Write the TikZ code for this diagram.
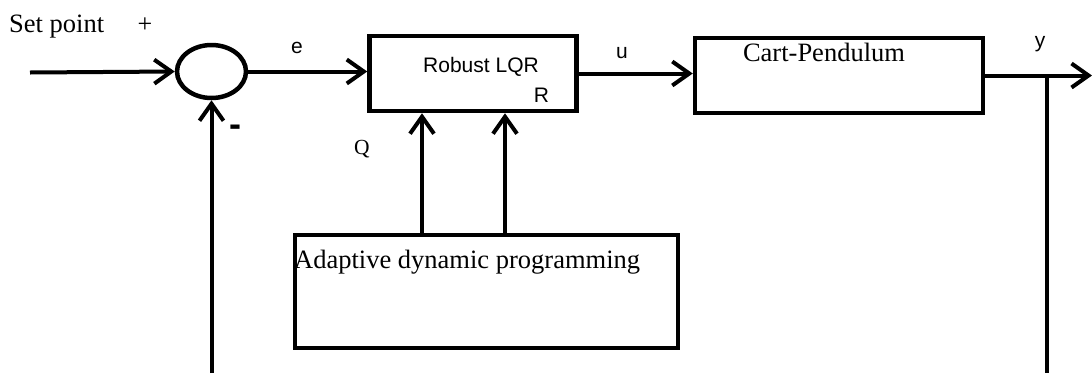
\documentclass[tikz,border=0pt]{standalone}
\usepackage{fontspec}
\setmainfont{Liberation Serif}
\newfontfamily\arialf{Liberation Sans}
\usetikzlibrary{arrows.meta,shapes.geometric}
\begin{document}
\begin{tikzpicture}[x=1pt,y=-1pt,
  blk/.style={draw, line width=4.5pt, inner sep=0pt},
  ln/.style={line width=3.5pt},
  arr/.style={line width=4pt, -{Straight Barb[length=17pt,width=24pt]}},
  serif/.style={font=\fontsize{26.5}{30}\selectfont, inner sep=0pt},
  serifsm/.style={font=\fontsize{21.5}{24}\selectfont, inner sep=0pt},
  sans/.style={font=\arialf\fontsize{21}{24}\selectfont, inner sep=0pt}]
\useasboundingbox (0,0) rectangle (1092,373);
% blocks
\node[blk, ellipse, minimum width=69pt, minimum height=53pt] (sum) at (211.5,71.5) {};
\node[blk, rectangle, minimum width=207pt, minimum height=75pt] (lqr) at (473,73.5) {};
\node[blk, rectangle, minimum width=288pt, minimum height=75pt] (plant) at (839,75.5) {};
\node[blk, rectangle, minimum width=383pt, minimum height=113pt] (adp) at (486.5,291.5) {};
% coordinates
\coordinate (in) at (30,72.5);
\coordinate (out) at (1092,75.5);
\coordinate (j) at (1047,75.5);
\coordinate (jb) at (1047,373);
\coordinate (fb) at (211.5,373);
\coordinate (qx) at (422,0);
\coordinate (rx) at (505,0);
% connectors
\draw[arr] (in) -- (sum.west);
\draw[arr] (sum.east) -- (lqr.west |- sum.east);
\draw[arr] (lqr.east) -- (plant.west |- lqr.east);
\draw[arr] (plant.east) -- (out);
\draw[ln] (j) -- (jb);
\draw[arr] (fb) -- (sum.south);
\draw[arr] (adp.north -| qx) -- (lqr.south -| qx);
\draw[arr] (adp.north -| rx) -- (lqr.south -| rx);
% labels
\node[serif, anchor=base west] (sp) at (9,32) {Set point};
\node[font=\fontsize{26}{28}\selectfont, inner sep=0pt, anchor=base] (plus) at (145,32) {+};
\node[sans, anchor=base] (el) at (297,53) {e};
\node[font=\arialf\bfseries\fontsize{36}{38}\selectfont, inner sep=0pt] (minus) at (235,131) {-};
\node[serifsm, anchor=base] (ql) at (362,154) {Q};
\node[sans, anchor=base] (lqrt) at (481,72) {Robust LQR};
\node[sans, anchor=base] (rl) at (541.5,102) {R};
\node[sans, anchor=base] (ul) at (622,58) {u};
\node[serif, anchor=base] (cpt) at (824,61) {Cart-Pendulum};
\node[sans, anchor=base] (yl) at (1040,47) {y};
\node[serif, anchor=base west] (adpt) at (294,268) {Adaptive dynamic programming};
\end{tikzpicture}
\end{document}
